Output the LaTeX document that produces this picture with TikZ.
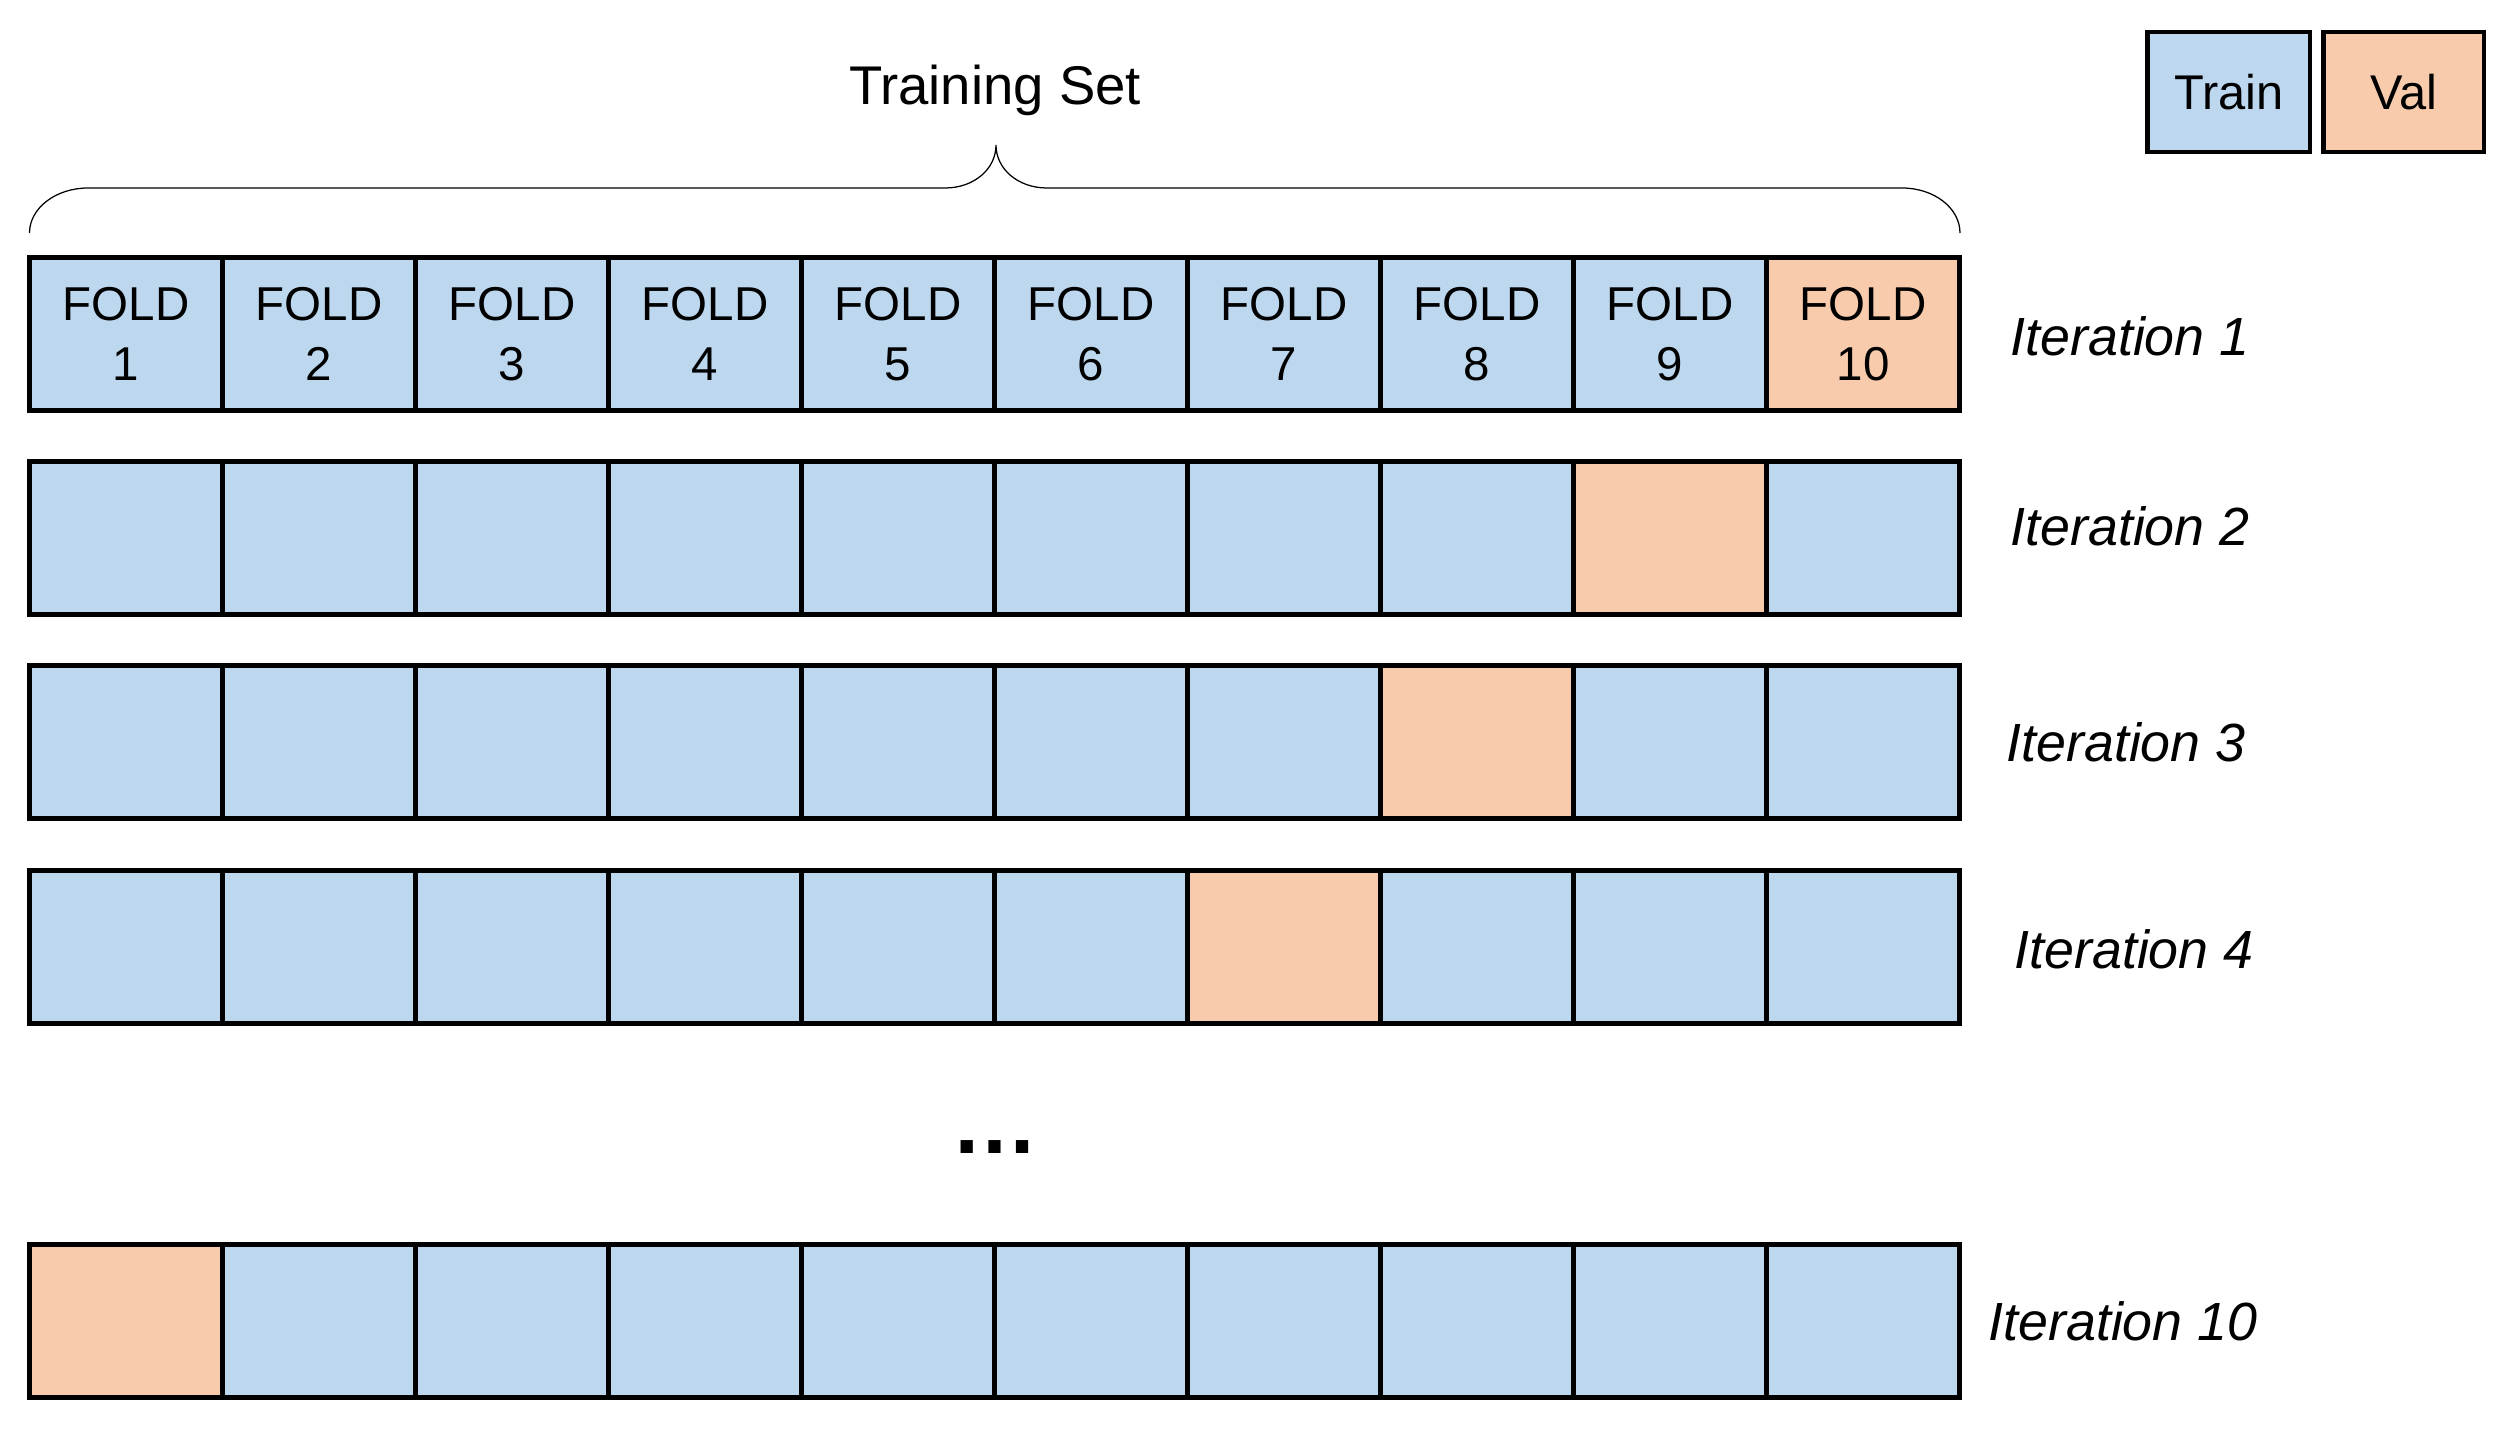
\documentclass[tikz,border=0pt]{standalone}
\usepackage{fontspec}
\setmainfont{Liberation Sans}
\definecolor{trainblue}{HTML}{BDD7EE}
\definecolor{valpeach}{HTML}{F8CBAD}
\begin{document}
\begin{tikzpicture}[x=0.4pt,y=-0.4pt,
  cell/.style={draw=black,line width=2pt,minimum width=77.2pt,minimum height=61.2pt,
    inner sep=0pt,outer sep=0pt,anchor=north west,
    font=\fontsize{19}{24}\selectfont,align=center},
  tr/.style={cell,fill=trainblue},
  vl/.style={cell,fill=valpeach},
  iter/.style={font=\fontsize{21.5}{26}\selectfont\itshape,anchor=base west,inner sep=0pt},
  leg/.style={draw=black,line width=1.8pt,minimum height=48pt,inner sep=0pt,outer sep=0pt,
    font=\fontsize{19.5}{24}\selectfont},
  bracel/.style={draw=black,line width=0.5pt}
]
\useasboundingbox (0,0) rectangle (2509,1430);

% legend
\node[leg,fill=trainblue,minimum width=65pt] (legtrain) at (2228.75,92) {Train};
\node[leg,fill=valpeach,minimum width=64.2pt] (legval) at (2403.75,92) {Val};

% title and brace
\node[font=\fontsize{21.8}{26}\selectfont,anchor=base,inner sep=0pt] (ts) at (995,105) {Training Set};
\coordinate (bl) at (29.5,233);
\coordinate (br) at (1960,233);
\coordinate (btip) at (996,145);
\draw[bracel] (bl) .. controls (29.5,208) and (56,188) .. (88,188) -- (945,188)
  .. controls (974,188) and (996,169) .. (btip)
  .. controls (996,169) and (1018,188) .. (1047,188) -- (1902,188)
  .. controls (1934,188) and (1960,208) .. (br);

% rows of folds
\foreach \r/\t/\v in {1/257.5/10, 2/461.5/9, 3/666/8, 4/870.5/7, 10/1244.5/1}{
  \foreach \c in {1,...,10}{
    \ifnum\c=\v\relax\def\st{vl}\else\def\st{tr}\fi
    \ifnum\r=1\relax\def\tx{FOLD\\\c}\else\def\tx{}\fi
    \node[\st] (c-\r-\c) at ({29.5+(\c-1)*193},\t) {\tx};
  }
}

% iteration labels
\node[iter] (it1) at (2010,356) {Iteration 1};
\node[iter] (it2) at (2010,546) {Iteration 2};
\node[iter] (it3) at (2006,762) {Iteration 3};
\node[iter] (it4) at (2014,969) {Iteration 4};
\node[iter] (it10) at (1988,1340) {Iteration 10};

% ellipsis
\node[font=\fontsize{34.8}{40}\selectfont\bfseries,anchor=base,inner sep=0pt] (dots) at (995,1154) {…};
\end{tikzpicture}
\end{document}
